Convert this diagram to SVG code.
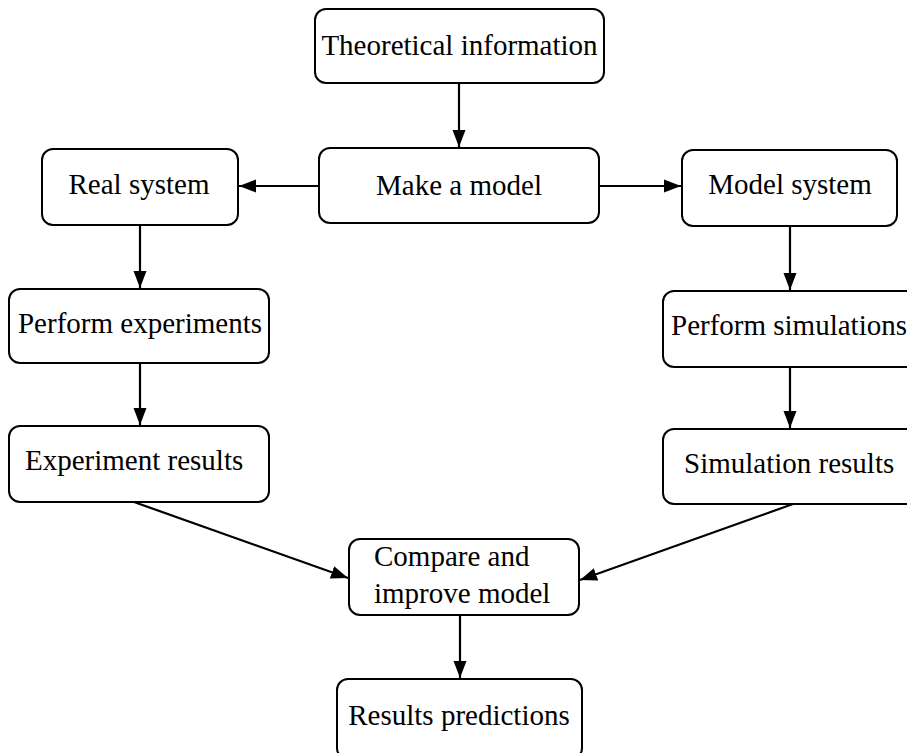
<svg xmlns="http://www.w3.org/2000/svg" width="907" height="753" viewBox="0 0 907 753">
<style>
.box{fill:#fff;stroke:#000;stroke-width:2}
.t{font-family:'Liberation Serif','DejaVu Serif',serif;font-size:29px;fill:#000}
.c{text-anchor:middle}
.ln{stroke:#000;stroke-width:2.2;fill:none;marker-end:url(#ah)}
</style>
<defs>
<marker id="ah" markerUnits="userSpaceOnUse" markerWidth="18" markerHeight="14" refX="17" refY="7" orient="auto">
<path d="M0,0.5 L17,7 L0,13.5 z" fill="#000"/>
</marker>
</defs>
<rect width="907" height="753" fill="#fff"/>
<g id="connectors">
<line class="ln" x1="459" y1="83" x2="459" y2="147"/>
<line class="ln" x1="319" y1="186" x2="239" y2="186"/>
<line class="ln" x1="599" y1="186" x2="681" y2="186"/>
<line class="ln" x1="140" y1="225" x2="140" y2="288"/>
<line class="ln" x1="790" y1="226" x2="790" y2="290"/>
<line class="ln" x1="140" y1="363" x2="140" y2="425"/>
<line class="ln" x1="790" y1="367" x2="790" y2="428"/>
<line class="ln" x1="134" y1="502" x2="348" y2="578"/>
<line class="ln" x1="793" y1="504" x2="580" y2="580"/>
<line class="ln" x1="460" y1="615" x2="460" y2="678"/>
</g>
<g id="theoretical"><rect class="box" x="315" y="9" width="289" height="74" rx="11"/><text class="t c" x="459.5" y="55">Theoretical information</text></g>
<g id="make-model"><rect class="box" x="319" y="148" width="280" height="75" rx="11"/><text class="t c" x="459" y="195">Make a model</text></g>
<g id="real-system"><rect class="box" x="42" y="149" width="196" height="76" rx="11"/><text class="t c" x="139" y="194">Real system</text></g>
<g id="model-system"><rect class="box" x="682" y="150" width="215" height="76" rx="11"/><text class="t c" x="790" y="194">Model system</text></g>
<g id="perform-experiments"><rect class="box" x="9" y="289" width="260" height="74" rx="11"/><text class="t c" x="140" y="333">Perform experiments</text></g>
<g id="perform-simulations"><rect class="box" x="663" y="291" width="260" height="76" rx="11"/><text class="t" x="671" y="335">Perform simulations</text></g>
<g id="experiment-results"><rect class="box" x="9" y="426" width="260" height="76" rx="11"/><text class="t" x="25" y="470">Experiment results</text></g>
<g id="simulation-results"><rect class="box" x="663" y="429" width="260" height="75" rx="11"/><text class="t" x="684" y="473">Simulation results</text></g>
<g id="compare"><rect class="box" x="349" y="539" width="230" height="76" rx="11"/><text class="t" x="374" y="566">Compare and</text><text class="t" x="374" y="603">improve model</text></g>
<g id="results-predictions"><rect class="box" x="337" y="679" width="245" height="80" rx="11"/><text class="t c" x="459" y="725">Results predictions</text></g>
</svg>
